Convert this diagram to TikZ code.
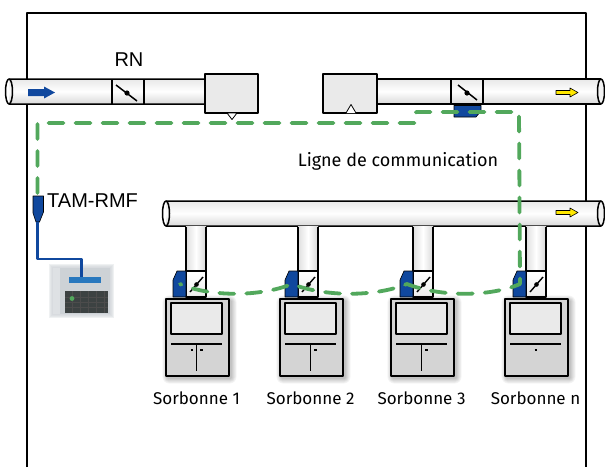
\documentclass[tikz,border=0pt]{standalone}
\usepackage{fontspec}
\setmainfont{Liberation Sans}
\newfontfamily\labelfont{Fira Sans}
\usetikzlibrary{calc}

\definecolor{boxgray}{RGB}{234,234,234}
\definecolor{hoodgray}{RGB}{212,212,212}
\definecolor{glassgray}{RGB}{234,234,234}
\definecolor{commgreen}{RGB}{82,168,92}
\definecolor{actblue}{RGB}{16,72,158}
\definecolor{screenblue}{RGB}{40,120,190}
\definecolor{arrowyellow}{RGB}{255,232,0}
\definecolor{padgray}{RGB}{205,210,214}
\definecolor{keysdark}{RGB}{60,66,66}

\begin{document}
\begin{tikzpicture}[x=1pt,y=-1pt,line join=round,
  outline/.style={draw=black,line width=1.5pt},
  thin outline/.style={draw=black,line width=0.8pt},
  ductshade/.style={top color=gray!18, bottom color=gray!30, middle color=white},
  branchshade/.style={left color=gray!25, right color=gray!30, middle color=white},
  comm/.style={draw=commgreen,line width=3.8pt,line cap=round,dash pattern=on 15pt off 12pt},
  wire/.style={draw=actblue,line width=2.4pt},
  actuator/.style={fill=actblue,draw=black,line width=0.6pt},
  bigtext/.style={font=\fontsize{20}{24}\selectfont,inner sep=0pt},
  hoodtext/.style={font=\labelfont\fontsize{17}{20}\selectfont,inner sep=0pt}
]
\useasboundingbox (0,0) rectangle (605,467);
\fill[white] (0,0) rectangle (605,467);

% room outline
\draw[line width=1.6pt] (27,467) -- (27,13) -- (586,13) -- (586,467);

% ---------- upper duct, left part ----------
\shade[ductshade] (9,79) rectangle (205,104);
\draw[outline] (205,79) -- (9,79) arc[start angle=270,end angle=90,x radius=3.5,y radius=12.5] -- (205,104);
\draw[outline] (9,79) arc[start angle=270,end angle=450,x radius=3.5,y radius=12.5];
% damper RN
\draw[outline] (112,79) -- (112,104) (144,79) -- (144,104);
\draw[line width=1.5pt] (116,85) -- (137,101);
\fill (127,93) circle (2.6);
% blue flow arrow
\fill[actblue] (28,89) -- (44,89) -- (44,86.5) -- (55,92.5) -- (44,98.5) -- (44,96) -- (28,96) -- cycle;
% box with outlet
\draw[outline,fill=boxgray] (205,74) rectangle (258,113);
\draw[thin outline,fill=white] (227,113) -- (237,113) -- (232,119.5) -- cycle;

% ---------- upper duct, right part ----------
\shade[ductshade] (377,79) rectangle (601,104);
\draw[outline] (377,79) -- (601,79) (377,104) -- (601,104);
\draw[outline,fill=gray!10] (601,91.5) ellipse [x radius=3.5,y radius=12.5];
\draw[outline,fill=boxgray] (323,74) rectangle (377,113);
\draw[thin outline,fill=white] (346,113) -- (351,104.5) -- (356,113);
% motorised damper
\draw[outline] (451,79) -- (451,104) (483,79) -- (483,104);
\draw[line width=1.5pt] (458,85) -- (477,100);
\fill (467,93) circle (2.6);
\draw[actuator] (454,105.5) -- (481,105.5) -- (481,111) -- (476,117) -- (454,117) -- cycle;
% yellow flow arrow
\draw[fill=arrowyellow,line width=0.6pt] (556,90.5) -- (570,90.5) -- (570,88) -- (578,92.5) -- (570,97) -- (570,94.5) -- (556,94.5) -- cycle;

% ---------- extraction collector ----------
\shade[ductshade] (166,201) rectangle (601,226);
\draw[outline] (601,201) -- (166,201) arc[start angle=270,end angle=90,x radius=3.5,y radius=12.5] -- (601,226);
\draw[outline] (166,201) arc[start angle=270,end angle=450,x radius=3.5,y radius=12.5];
\draw[outline,fill=gray!10] (601,213.5) ellipse [x radius=3.5,y radius=12.5];
\draw[fill=arrowyellow,line width=0.6pt] (556,210.5) -- (570,210.5) -- (570,208) -- (578,212.5) -- (570,217) -- (570,214.5) -- (556,214.5) -- cycle;

% ---------- branches, dampers and fume hoods ----------
\foreach \bx/\hx/\n/\kind in {186/165/1/1, 298/279/2/2, 413/390/3/2, 526/504/n/3}{
  % branch pipe
  \shade[branchshade] (\bx,226.7) rectangle ({\bx+20},271);
  \draw[outline] (\bx,226.7) -- (\bx,271) ({\bx+20},226.7) -- ({\bx+20},271);
  % damper
  \draw[outline,top color=white,bottom color=gray!15] (\bx,271) rectangle ({\bx+20},297);
  \draw[line width=1.4pt] ({\bx+4},292) -- ({\bx+17},277);
  \fill ({\bx+10.5},284.5) circle (2.3);
  \draw[actuator] ({\bx-13},297) -- ({\bx-13},280) -- ({\bx-9},271) -- (\bx,271) -- (\bx,297) -- cycle;
  \coordinate (act\n) at ({\bx-6},284);
  % soft shadow of the hood
  \foreach \s in {1,...,7}
    \fill[black,opacity=0.035,rounded corners=\s pt] ({\hx+3-\s*0.8},{298+3-\s*0.8}) rectangle ({\hx+63+3+\s*0.8},{375+3+\s*0.8});
  % hood body
  \node[outline,fill=hoodgray,minimum width=63pt,minimum height=77pt,inner sep=0pt,anchor=north west] (hood\n) at (\hx,298) {};
  \draw[outline,fill=glassgray] ({\hx+6},303) rectangle ({\hx+57},334);
  \draw[line width=1.5pt] ({\hx+6},344) -- ({\hx+57},344);
  \ifnum\kind<3
    \draw[line width=1.5pt] ({\hx+31.5},344) -- ({\hx+31.5},371);
    \draw[line width=1.1pt] ({\hx+35},350) -- ({\hx+37.5},350);
  \else
    \draw[line width=1.1pt] ({\hx+30.5},350) -- ({\hx+33},350);
  \fi
  \ifnum\kind=1
    \draw[line width=1.1pt] ({\hx+25.5},350) -- ({\hx+28},350);
  \fi
  \node[hoodtext,anchor=base] (lab\n) at ({\hx+31.5},404) {Sorbonne \n};
}

% ---------- TAM-RMF module and terminal ----------
\draw[actuator] (33,196) -- (43.5,196) -- (43.5,212) -- (39.5,222) -- (36,222) -- (33,213) -- cycle;
\coordinate (tam) at (37.5,193);
\node[bigtext,anchor=west] (tamlab) at (47,201) {TAM-RMF};
% terminal (keypad), slightly blurred edges
\foreach \s in {1,...,4}
  \fill[padgray,opacity=0.3] ({53-\s},{268-\s}) rectangle ({110+\s},{314+\s});
\fill[padgray] (53,268) rectangle (110,314);
\fill[white,opacity=0.35] (53,268) rectangle (60,314);
\node[fill=screenblue,minimum width=32pt,minimum height=6pt,inner sep=0pt] (screen) at (85,280) {};
\fill[keysdark] (65,291) rectangle (108,313);
\foreach \gx in {72,80,88,96,104}
  \draw[gray!60!black,line width=0.5pt] (\gx,291) -- (\gx,313);
\foreach \gy in {297,302,307}
  \draw[gray!60!black,line width=0.5pt] (65,\gy) -- (108,\gy);
\fill[commgreen] (72,298.5) circle (2.4);
\draw[wire] (37.5,222) -- (37.5,259) -- (81.5,259) -- (screen.north -| 81.5,0);

% ---------- communication line ----------
\coordinate (c1) at (37.5,123);
\coordinate (c2) at (416,123);
\coordinate (c3) at (416,112);
\coordinate (c4) at (519,112);
\draw[comm] (tam) -- (c1) -- (c2) -- (c3) -- (c4) -- (actn)
  .. controls (490,297) and (440,297) .. (act3)
  .. controls (375,297) and (325,297) .. (act2)
  .. controls (260,297) and (210,297) .. (act1);

% ---------- labels ----------
\node[bigtext] (rn) at (129,60) {RN};
\node[hoodtext,anchor=base,font=\labelfont\fontsize{18}{21}\selectfont] (comlab) at (398,166) {Ligne de communication};
\end{tikzpicture}
\end{document}
